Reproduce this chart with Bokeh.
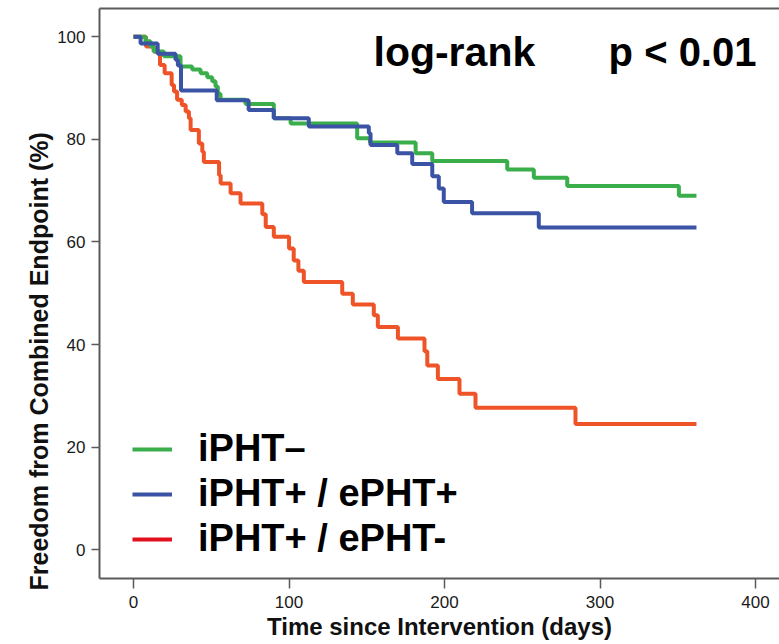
from bokeh.plotting import figure
from bokeh.models import (Range1d, FixedTicker, LinearAxis, Legend, LegendItem,
                          Label, Title, ColumnDataSource)
from bokeh.embed import file_html
from bokeh.resources import INLINE

# ---- data ----
green_t = [0, 7.7, 10.9, 13, 19.5, 30.2, 37.7, 43.1, 47.4, 50.6, 52.7, 54.2, 55.9, 72,
           90.2, 101, 143.8, 152, 181.4, 192.1, 240.3, 257.4, 278.9, 350.7, 362]
green_s = [100, 99.1, 98.1, 97.1, 96.2, 94.2, 93.6, 92.9, 92.1, 91.3, 90.3, 88.9, 87.7, 86.9,
           84.1, 83.1, 80.2, 79.4, 77.3, 75.8, 74.1, 72.5, 70.9, 69.0, 69.0]

blue_t = [0, 4.5, 15.5, 27, 28.5, 30.5, 53.5, 74, 90.2, 112.7, 151.3, 152.4, 169.6, 179.2,
          192.1, 196.3, 199.5, 217.7, 260.6, 362]
blue_s = [100, 98.7, 96.7, 95.5, 94.4, 89.5, 87.6, 85.7, 84.1, 82.5, 81.2, 78.9, 77.3, 75.2,
          72.8, 70.4, 67.8, 65.6, 62.8, 62.8]

red_t = [0, 8, 13, 17, 20, 24.5, 26, 28, 31, 33.5, 35.6, 36.7, 42, 44.2, 45.2, 55, 56, 62.4,
         68.8, 82.8, 85, 90.2, 100, 103, 106, 109.5, 134.2, 141, 154.5, 157.1, 170, 187.1,
         188.9, 195.7, 209.6, 219.9, 284.2, 362]
red_s = [100, 98.1, 97.1, 94.5, 92.9, 90.6, 89.3, 87.7, 86.7, 85.4, 84.1, 81.8, 79.2, 77.6,
         75.6, 73.0, 71.4, 69.5, 67.5, 65.4, 62.9, 61.0, 58.7, 56.4, 54.4, 52.2, 49.9, 47.8,
         45.7, 43.4, 41.2, 38.7, 35.9, 33.3, 30.4, 27.7, 24.5, 24.5]

series_labels = ["iPHT\u2013", "iPHT+ / ePHT+", "iPHT+ / ePHT-"]
x_ticks = [0, 100, 200, 300, 400]
y_ticks = [0, 20, 40, 60, 80, 100]
x_title = "Time since Intervention (days)"
y_title = "Freedom from Combined Endpoint (%)"

GREEN = "#3aae4a"
BLUE = "#3b53a4"
ORANGE = "#ef5428"
LEG_RED = "#e3101e"
AXIS = "#5a5a5a"
FONT = "Liberation Sans"
NAN = float("nan")

p = figure(width=779, height=644,
           x_range=Range1d(-21.9, 415.4), y_range=Range1d(-5.6, 105.5),
           output_backend="svg", toolbar_location=None,
           min_border_left=99, min_border_right=0, min_border_top=8, min_border_bottom=66)
p.grid.visible = False
p.outline_line_color = None
p.background_fill_color = "white"
p.border_fill_color = "white"

# axes
p.xaxis.ticker = FixedTicker(ticks=x_ticks)
p.yaxis.ticker = FixedTicker(ticks=y_ticks)
for ax in (p.xaxis, p.yaxis):
    ax.axis_line_color = AXIS
    ax.axis_line_width = 2
    ax.major_tick_line_color = AXIS
    ax.major_tick_line_width = 1.5
    ax.major_tick_in = 0
    ax.minor_tick_line_color = None
    ax.major_label_text_font = FONT
    ax.major_label_text_color = "#1a1a1a"
    ax.axis_label_text_font = FONT
    ax.axis_label_text_font_style = "bold"
    ax.axis_label_text_color = "#111111"
p.xaxis.major_tick_out = 10
p.yaxis.major_tick_out = 8
p.xaxis.major_label_text_font_size = "17px"
p.yaxis.major_label_text_font_size = "17px"
p.xaxis.major_label_standoff = 7
p.yaxis.major_label_standoff = 6
p.xaxis.axis_label = x_title
p.xaxis.axis_label_text_font_size = "24px"
p.xaxis.axis_label_standoff = 2

top = LinearAxis(ticker=FixedTicker(ticks=[]), axis_line_color=AXIS, axis_line_width=2,
                 major_tick_line_color=None, minor_tick_line_color=None,
                 major_label_text_font_size="0px", major_label_standoff=0)
p.add_layout(top, "above")

# y title in a left side panel, starting just below the frame bottom as in the reference
p.add_layout(Title(text=y_title, align="left", offset=-12, standoff=4,
                   text_font=FONT, text_font_size="25px", text_font_style="bold",
                   text_color="#111111"), "left")

# curves
p.step(x="t", y="s", source=ColumnDataSource(dict(t=red_t, s=red_s)),
       mode="after", line_width=4, color=ORANGE)
p.step(x="t", y="s", source=ColumnDataSource(dict(t=green_t, s=green_s)),
       mode="after", line_width=4, color=GREEN)
p.step(x="t", y="s", source=ColumnDataSource(dict(t=blue_t, s=blue_s)),
       mode="after", line_width=4, color=BLUE)

# legend (own swatch colours, as in the reference)
lg = p.line(x=[NAN], y=[NAN], line_width=4, color=GREEN)
lb = p.line(x=[NAN], y=[NAN], line_width=4, color=BLUE)
lr = p.line(x=[NAN], y=[NAN], line_width=4, color=LEG_RED)
legend = Legend(items=[LegendItem(label=series_labels[0], renderers=[lg]),
                       LegendItem(label=series_labels[1], renderers=[lb]),
                       LegendItem(label=series_labels[2], renderers=[lr])],
                location=(33, 18), label_text_font_size="38px", label_text_font_style="bold",
                label_text_font=FONT, label_text_color="black",
                glyph_width=40, glyph_height=30, label_standoff=26, spacing=2,
                padding=0, margin=0, border_line_color=None, background_fill_alpha=0)
p.add_layout(legend)

# annotation text
p.add_layout(Label(x=154.3, y=97.0, text="log-rank", text_font=FONT, text_font_size="41px",
                   text_font_style="bold", text_color="black", text_baseline="alphabetic"))
p.add_layout(Label(x=305.5, y=97.0, text="p < 0.01", text_font=FONT, text_font_size="40px",
                   text_font_style="bold", text_color="black", text_baseline="alphabetic"))

open("out.html", "w").write(file_html(p, INLINE))
